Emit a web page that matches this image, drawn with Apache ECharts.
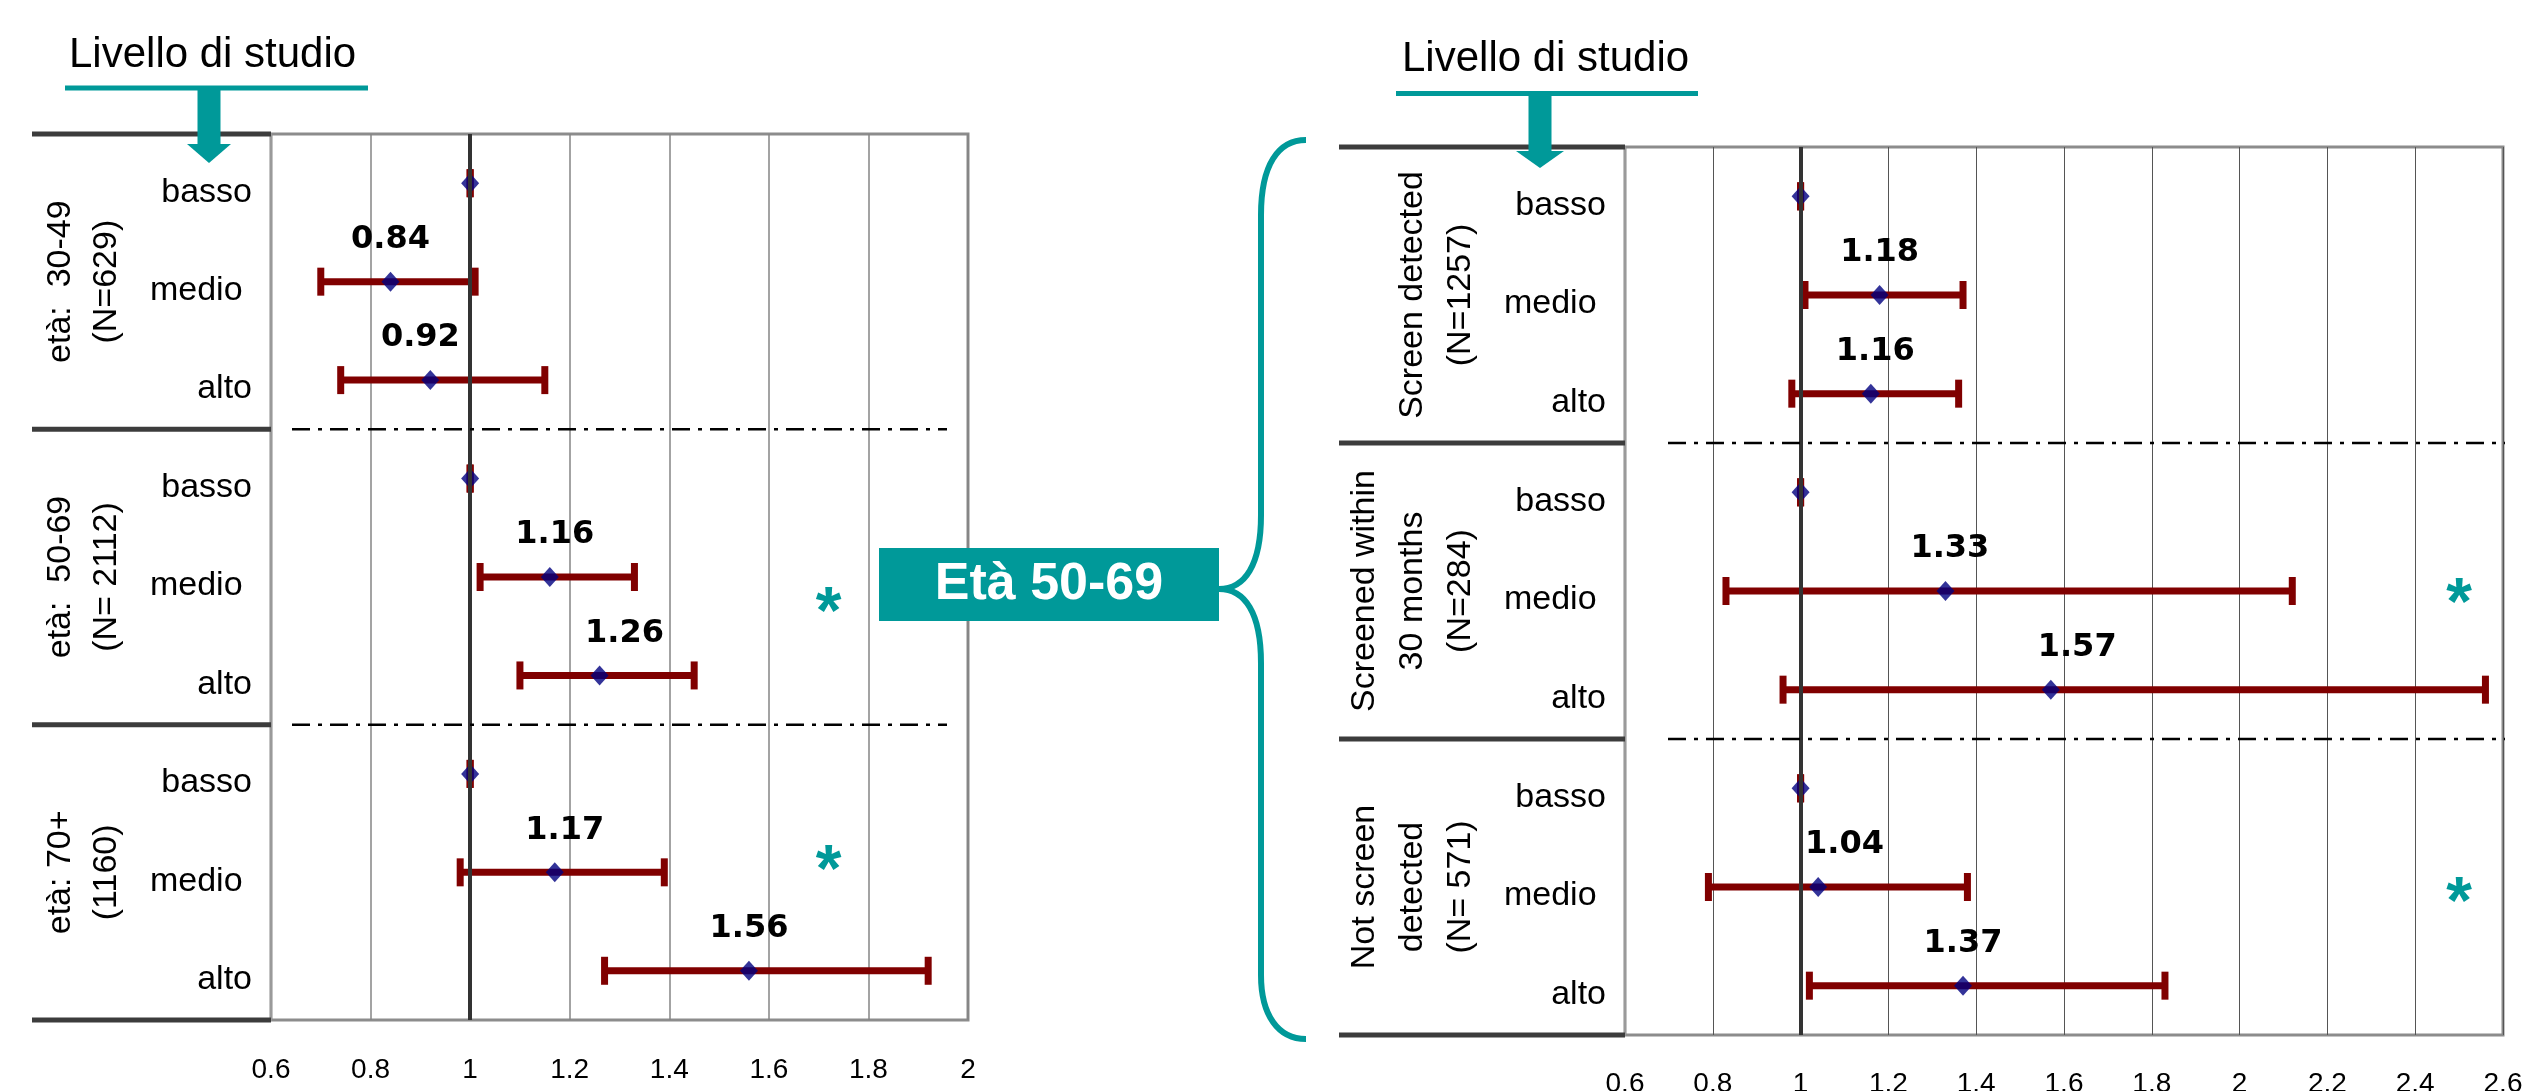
<!DOCTYPE html>
<html>
<head>
<meta charset="utf-8">
<title>Livello di studio</title>
<script src="https://cdn.jsdelivr.net/npm/echarts@6/dist/echarts.min.js"></script>
<style>
  html, body { margin: 0; padding: 0; background: #fff; }
  #chart { width: 2547px; height: 1091px; }
</style>
</head>
<body>
<div id="chart"></div>
<script>
  // livelli di studio (lo spazio dopo "medio" c'e' anche nell'originale)
  var levels = ['basso', 'medio ', 'alto'];

  // grafico di sinistra: classi di eta'
  var leftGroups = ['età:  30-49\n(N=629)', 'età:  50-69\n(N= 2112)', 'età: 70+\n(1160)'];
  var leftEst  = [1, 0.84, 0.92, 1, 1.16, 1.26, 1, 1.17, 1.56];
  var leftLow  = [1, 0.70, 0.74, 1, 1.02, 1.10, 1, 0.98, 1.27];
  var leftHigh = [1, 1.01, 1.15, 1, 1.33, 1.45, 1, 1.39, 1.92];
  var leftLabelX = [null, 0.84, 0.90, null, 1.17, 1.31, null, 1.19, 1.56];
  var leftStars = [[1.72, 4, 0.24], [1.72, 7, -0.14]];   // [x, riga, spostamento in righe]
  var leftAxis = [0.6, 2, 0.2];

  // grafico di destra: eta' 50-69 per modalita' di diagnosi
  var rightGroups = ['Screen detected\n(N=1257)', 'Screened within\n30 months\n(N=284)', 'Not screen\ndetected\n(N= 571)'];
  var rightEst  = [1, 1.18, 1.16, 1, 1.33, 1.57, 1, 1.04, 1.37];
  var rightLow  = [1, 1.01, 0.98, 1, 0.83, 0.96, 1, 0.79, 1.02];
  var rightHigh = [1, 1.37, 1.36, 1, 2.12, 2.56, 1, 1.38, 1.83];
  var rightLabelX = [null, 1.18, 1.17, null, 1.34, 1.63, null, 1.10, 1.37];
  var rightStars = [[2.5, 4, 0.01], [2.5, 7, 0.04]];
  var rightAxis = [0.6, 2.6, 0.2];

  var TEAL = '#009999';
  var RED = '#800000';
  var NAVY = '#000080';
  var FONT = '"Liberation Sans", Arial, sans-serif';

  var rows = [];
  for (var g = 0; g < 3; g++) {
    levels.forEach(function (l) { rows.push(l); });
  }

  var grids = [
    { left: 271, top: 134, width: 697, height: 886 },
    { left: 1625, top: 147, width: 878, height: 888 }
  ];

  var chart = echarts.init(document.getElementById('chart'), null, { renderer: 'canvas' });

  function renderBar(params, api) {
    var row = api.value(2);
    var a = api.coord([api.value(0), row]);
    var b = api.coord([api.value(1), row]);
    var w = 7, capH = 28;
    return {
      type: 'group',
      children: [
        { type: 'rect', shape: { x: a[0], y: a[1] - w / 2, width: b[0] - a[0], height: w }, style: { fill: RED } },
        { type: 'rect', shape: { x: a[0] - w / 2, y: a[1] - capH / 2, width: w, height: capH }, style: { fill: RED } },
        { type: 'rect', shape: { x: b[0] - w / 2, y: b[1] - capH / 2, width: w, height: capH }, style: { fill: RED } }
      ]
    };
  }

  function renderLabel(params, api) {
    var p = api.coord([api.value(0), api.value(1)]);
    return {
      type: 'text', x: p[0], y: p[1] - 42,
      style: {
        text: api.value(2).toFixed(2), fill: '#000',
        font: 'bold 32px "DejaVu Sans", Verdana, sans-serif',
        align: 'center', verticalAlign: 'middle'
      }
    };
  }

  function renderStar(params, api) {
    var p = api.coord([api.value(0), api.value(1)]);
    var band = api.size([0, 1])[1];
    return {
      type: 'text', x: p[0], y: p[1] + api.value(2) * band + 14,
      style: {
        text: '*', fill: TEAL, font: 'bold 66px ' + FONT,
        align: 'center', verticalAlign: 'middle'
      }
    };
  }

  function buildSeries(gi, est, low, high, labelX, stars) {
    var barData = est.map(function (v, i) { return [low[i], high[i], i]; });
    var dots = est.map(function (v, i) { return [v, i]; });
    var labels = [];
    est.forEach(function (v, i) {
      if (labelX[i] != null) labels.push([labelX[i], i, v]);
    });
    return [
      {
        type: 'scatter', xAxisIndex: gi, yAxisIndex: gi, data: [], z: 1, silent: true,
        markLine: {
          symbol: ['none', 'none'], silent: true, label: { show: false },
          lineStyle: { color: '#333', width: 4, type: 'solid' },
          data: [{ xAxis: 1 }]
        }
      },
      {
        type: 'custom', xAxisIndex: gi, yAxisIndex: gi, z: 2, silent: true,
        encode: { x: [0, 1], y: 2 }, renderItem: renderBar, data: barData
      },
      {
        type: 'scatter', xAxisIndex: gi, yAxisIndex: gi, z: 3, silent: true,
        symbol: 'diamond', symbolSize: [18, 20], itemStyle: { color: NAVY },
        data: dots
      },
      {
        type: 'custom', xAxisIndex: gi, yAxisIndex: gi, z: 4, silent: true,
        encode: { x: 0, y: 1 }, renderItem: renderLabel, data: labels
      },
      {
        type: 'custom', xAxisIndex: gi, yAxisIndex: gi, z: 4, silent: true,
        encode: { x: 0, y: 1 }, renderItem: renderStar, data: stars
      }
    ];
  }

  function xAxisFor(gi, ax, gridColor, gridWidth, margin) {
    return {
      type: 'value', gridIndex: gi, min: ax[0], max: ax[1], interval: ax[2],
      axisLine: { show: false }, axisTick: { show: false },
      splitLine: { show: true, lineStyle: { color: gridColor, width: gridWidth } },
      axisLabel: { color: '#000', fontSize: 28, fontFamily: FONT, margin: margin }
    };
  }

  function yAxisFor(gi) {
    return {
      type: 'category', gridIndex: gi, data: rows, inverse: true,
      axisLine: { show: true, lineStyle: { color: '#9a9a9a', width: 2 } },
      axisTick: { show: false }, splitLine: { show: false },
      axisLabel: {
        color: '#000', fontSize: 34, fontFamily: FONT, margin: 19,
        verticalAlign: 'top', lineHeight: 18
      }
    };
  }

  var option = {
    animation: false,
    backgroundColor: '#fff',
    grid: grids.map(function (g) {
      return {
        left: g.left, top: g.top, width: g.width, height: g.height,
        containLabel: false, outerBoundsMode: 'none',
        show: true, borderColor: '#8c8c8c', borderWidth: 3, backgroundColor: 'transparent'
      };
    }),
    xAxis: [xAxisFor(0, leftAxis, '#858585', 1.5, 36), xAxisFor(1, rightAxis, '#555', 1, 35)],
    yAxis: [yAxisFor(0), yAxisFor(1)],
    series: buildSeries(0, leftEst, leftLow, leftHigh, leftLabelX, leftStars)
      .concat(buildSeries(1, rightEst, rightLow, rightHigh, rightLabelX, rightStars))
  };

  chart.setOption(option);

  // decorazioni: separatori di gruppo, etichette ruotate, titoli, freccia, parentesi
  function rowY(gi, r) {
    return chart.convertToPixel({ xAxisIndex: gi, yAxisIndex: gi }, [1, r])[1];
  }
  function boundary(gi, k) {
    var band = rowY(gi, 1) - rowY(gi, 0);
    return rowY(gi, 0) + (k - 0.5) * band;
  }

  var graphics = [];

  function panelDecor(gi, groups, thickX0, dashX0, dashX1, labelX, labelAlign, lineH) {
    var g = grids[gi];
    [0, 3, 6, 9].forEach(function (k) {
      var y = boundary(gi, k);
      graphics.push({
        type: 'line', z: 50, silent: true,
        shape: { x1: thickX0, y1: y, x2: g.left, y2: y },
        style: { stroke: '#3c3c3c', lineWidth: 5 }
      });
    });
    [3, 6].forEach(function (k) {
      var y = boundary(gi, k);
      graphics.push({
        type: 'line', z: 50, silent: true,
        shape: { x1: dashX0, y1: y, x2: dashX1, y2: y },
        style: { stroke: '#000', lineWidth: 2.5, lineDash: [18, 8, 4, 8] }
      });
    });
    groups.forEach(function (txt, i) {
      var yc = (boundary(gi, i * 3) + boundary(gi, i * 3 + 3)) / 2;
      graphics.push({
        type: 'text', z: 50, silent: true, x: labelX, y: yc, rotation: Math.PI / 2,
        style: {
          text: txt, fill: '#000', font: '34px ' + FONT, lineHeight: lineH,
          align: 'center', verticalAlign: labelAlign
        }
      });
    });
  }

  panelDecor(0, leftGroups, 32, 292, 947, 84, 'middle', 46);
  panelDecor(1, rightGroups, 1339, 1668, 2505, 1485, 'bottom', 48);

  function titleArrow(tx, ty, barX0, barX1, barY, stemX, stemBottom, headHalf, headTip) {
    graphics.push({
      type: 'text', z: 60, silent: true, x: tx, y: ty,
      style: { text: 'Livello di studio', fill: '#000', font: '42px ' + FONT, align: 'left', verticalAlign: 'middle' }
    });
    graphics.push({
      type: 'rect', z: 60, silent: true,
      shape: { x: barX0, y: barY - 2.5, width: barX1 - barX0, height: 5 }, style: { fill: TEAL }
    });
    graphics.push({
      type: 'rect', z: 60, silent: true,
      shape: { x: stemX - 11.5, y: barY, width: 23, height: stemBottom - barY }, style: { fill: TEAL }
    });
    graphics.push({
      type: 'polygon', z: 60, silent: true,
      shape: { points: [[stemX - headHalf, stemBottom], [stemX + headHalf, stemBottom], [stemX, headTip]] },
      style: { fill: TEAL }
    });
  }

  titleArrow(69, 55, 65, 368, 88, 209, 144, 22, 163);
  titleArrow(1402, 59, 1396, 1698, 93.5, 1540, 151, 24, 168);

  // riquadro "Età 50-69" e parentesi graffa
  graphics.push({
    type: 'rect', z: 60, silent: true,
    shape: { x: 879, y: 548, width: 340, height: 73 }, style: { fill: TEAL }
  });
  graphics.push({
    type: 'text', z: 61, silent: true, x: 1049, y: 585,
    style: { text: 'Età 50-69', fill: '#fff', font: 'bold 52px ' + FONT, align: 'center', verticalAlign: 'middle' }
  });

  var braceStyle = { fill: 'none', stroke: TEAL, lineWidth: 6 };
  var braceCurves = [
    [1306, 140, 1278, 140, 1261, 165, 1261, 215],
    [1261, 515, 1261, 565, 1245, 589, 1219, 589],
    [1219, 589, 1245, 589, 1261, 613, 1261, 663],
    [1261, 975, 1261, 1015, 1278, 1039, 1306, 1039]
  ];
  braceCurves.forEach(function (c) {
    graphics.push({
      type: 'bezierCurve', z: 60, silent: true,
      shape: { x1: c[0], y1: c[1], cpx1: c[2], cpy1: c[3], cpx2: c[4], cpy2: c[5], x2: c[6], y2: c[7] },
      style: braceStyle
    });
  });
  [[215, 515], [663, 975]].forEach(function (s) {
    graphics.push({
      type: 'line', z: 60, silent: true,
      shape: { x1: 1261, y1: s[0], x2: 1261, y2: s[1] },
      style: braceStyle
    });
  });

  chart.setOption({ graphic: graphics });
</script>
</body>
</html>
